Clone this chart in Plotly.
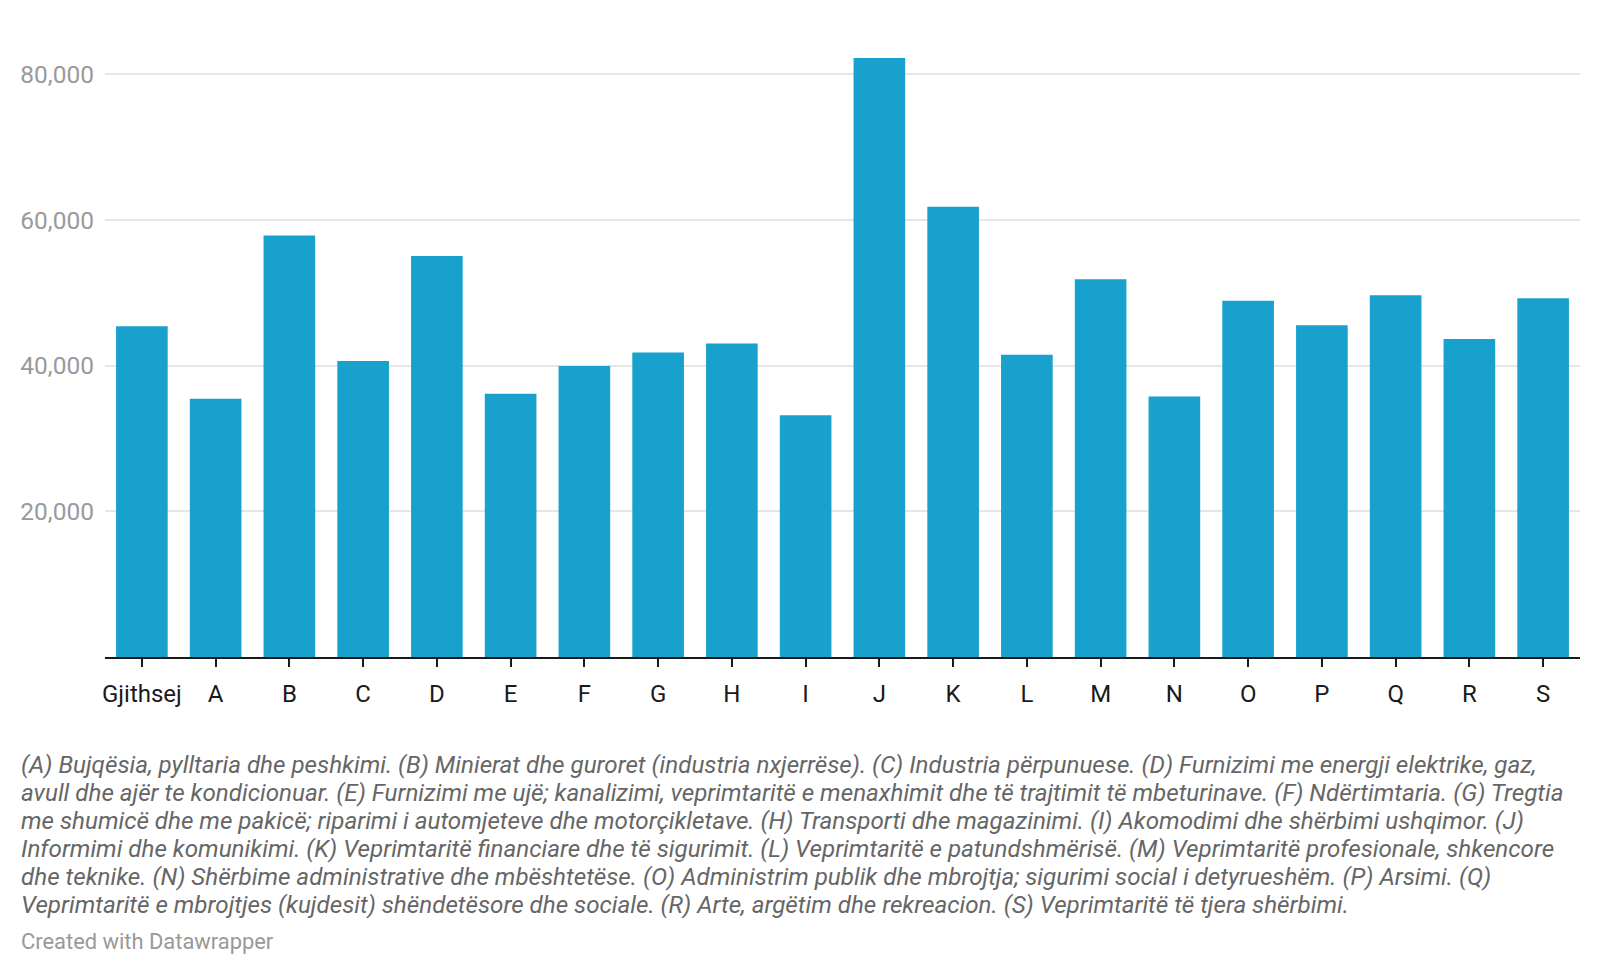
import plotly.graph_objects as go

categories = ["Gjithsej", "A", "B", "C", "D", "E", "F", "G", "H", "I",
              "J", "K", "L", "M", "N", "O", "P", "Q", "R", "S"]
values = [45400, 35450, 57850, 40650, 55050, 36150, 39950, 41800, 43050, 33200,
          82250, 61800, 41500, 51850, 35750, 48900, 45550, 49650, 43650, 49250]
y_ticks = [20000, 40000, 60000, 80000]
y_tick_labels = ["20,000", "40,000", "60,000", "80,000"]

footnote_lines = [
    "(A) Bujqësia, pylltaria dhe peshkimi. (B) Minierat dhe guroret (industria nxjerrëse). (C) Industria përpunuese. (D) Furnizimi me energji elektrike, gaz,",
    "avull dhe ajër te kondicionuar. (E) Furnizimi me ujë; kanalizimi, veprimtaritë e menaxhimit dhe të trajtimit të mbeturinave. (F) Ndërtimtaria. (G) Tregtia",
    "me shumicë dhe me pakicë; riparimi i automjeteve dhe motorçikletave. (H) Transporti dhe magazinimi. (I) Akomodimi dhe shërbimi ushqimor. (J)",
    "Informimi dhe komunikimi. (K) Veprimtaritë financiare dhe të sigurimit. (L) Veprimtaritë e patundshmërisë. (M) Veprimtaritë profesionale, shkencore",
    "dhe teknike. (N) Shërbime administrative dhe mbështetëse. (O) Administrim publik dhe mbrojtja; sigurimi social i detyrueshëm. (P) Arsimi. (Q)",
    "Veprimtaritë e mbrojtjes (kujdesit) shëndetësore dhe sociale. (R) Arte, argëtim dhe rekreacion. (S) Veprimtaritë të tjera shërbimi.",
]
credit = "Created with Datawrapper"

W, H = 1600, 976
ML, MR, MT, MB = 105, 20, 16, 319
PW, PH = W - ML - MR, H - MT - MB

def px_to_paper_x(px):
    return (px - ML) / PW

def px_to_paper_y(py):
    return (H - MB - py) / PH

fig = go.Figure()
fig.add_trace(go.Bar(
    x=categories, y=values,
    marker=dict(color="#18a1cd", line=dict(width=0)),
    hoverinfo="x+y",
))

fig.update_layout(
    width=W, height=H,
    margin=dict(l=ML, r=MR, t=MT, b=MB),
    paper_bgcolor="white", plot_bgcolor="white",
    bargap=0.3,
    showlegend=False,
    font=dict(family="Roboto", size=24, color="#333333"),
    xaxis=dict(
        type="category",
        showline=True, linecolor="#1a1a1a", linewidth=2,
        ticks="outside", ticklen=8, tickwidth=2, tickcolor="#1a1a1a",
        tickfont=dict(family="Roboto", size=24, color="#1a1a1a"),
        ticklabelstandoff=6,
        showgrid=False, zeroline=False,
        fixedrange=True,
    ),
    yaxis=dict(
        range=[0, 88000],
        tickvals=y_ticks, ticktext=y_tick_labels,
        tickfont=dict(family="Roboto", size=24.5, color="#9a9a9a"),
        showgrid=True, gridcolor="#e6e6e6", gridwidth=2,
        zeroline=False, showline=False, ticks="",
        ticklabelstandoff=10,
        fixedrange=True,
    ),
)

line_centers = [765, 793, 821, 849, 877, 905]
for txt, yc in zip(footnote_lines, line_centers):
    fig.add_annotation(
        text=txt,
        xref="paper", yref="paper", x=px_to_paper_x(19), y=px_to_paper_y(yc),
        xanchor="left", yanchor="middle", align="left", showarrow=False,
        font=dict(family="Roboto", size=24.2, color="#666666", style="italic"),
    )
fig.add_annotation(
    text=credit,
    xref="paper", yref="paper", x=px_to_paper_x(19), y=px_to_paper_y(942),
    xanchor="left", yanchor="middle", align="left", showarrow=False,
    font=dict(family="Roboto", size=21.9, color="#999999"),
)

fig.write_html(
    "out.html",
    config={"displayModeBar": False},
    post_script="document.body.style.margin='0';document.body.style.overflow='hidden';",
)
